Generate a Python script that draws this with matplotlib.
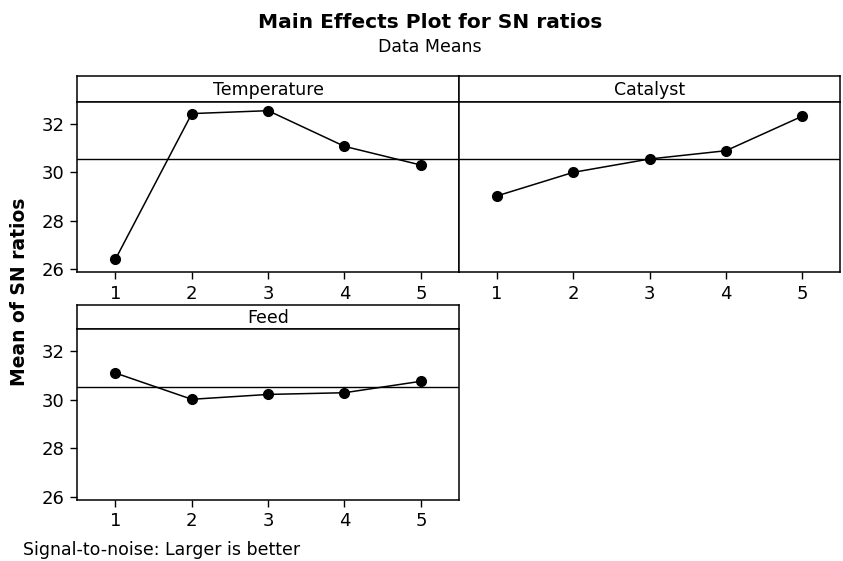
import matplotlib
matplotlib.use("Agg")
import matplotlib.pyplot as plt

levels = [1, 2, 3, 4, 5]
temperature = [26.41, 32.41, 32.53, 31.06, 30.29]
catalyst = [29.02, 29.99, 30.54, 30.88, 32.30]
feed = [31.09, 30.01, 30.21, 30.28, 30.75]
grand_mean = 30.52
yticks = [26, 28, 30, 32]

W, H = 843, 561
fig = plt.figure(figsize=(W / 100, H / 100), dpi=100)
plt.rcParams['font.family'] = ['DejaVu Sans']


def add_px(x0, y0, x1, y1):
    return fig.add_axes([x0 / W, 1 - y1 / H, (x1 - x0) / W, (y1 - y0) / H])


def panel(x0, x1, yh, yp, yb, name, vals, show_y):
    hax = add_px(x0, yh, x1, yp)
    hax.set_xticks([])
    hax.set_yticks([])
    for s in hax.spines.values():
        s.set_linewidth(1.1)
    hax.text(0.5, 0.47, name, ha='center', va='center', fontsize=12.5,
             transform=hax.transAxes)
    ax = add_px(x0, yp, x1, yb)
    for s in ax.spines.values():
        s.set_linewidth(1.1)
    ax.axhline(grand_mean, color='black', lw=1.0)
    ax.plot(levels, vals, color='black', lw=1.1, marker='o', markersize=7)
    ax.set_xlim(0.5, 5.5)
    ax.set_ylim(25.87, 32.9)
    ax.set_xticks(levels)
    ax.set_yticks(yticks)
    ax.tick_params(direction='out', length=5, width=1, labelsize=13, pad=4)
    if not show_y:
        ax.tick_params(axis='y', left=False, labelleft=False)
    return ax


panel(77.3, 459, 76, 101.7, 272.3, 'Temperature', temperature, True)
panel(459, 840.3, 76, 101.7, 272.3, 'Catalyst', catalyst, False)
panel(77.3, 459, 305, 329, 500, 'Feed', feed, True)

fig.text(430 / W, 1 - 22 / H, 'Main Effects Plot for SN ratios', ha='center',
         va='center', fontsize=14.5, fontweight='bold')
fig.text(430 / W, 1 - 47 / H, 'Data Means', ha='center', va='center', fontsize=12.5)
fig.text(20 / W, 1 - 292 / H, 'Mean of SN ratios', ha='center', va='center',
         rotation=90, fontsize=13.5, fontweight='bold')
fig.text(23 / W, 1 - 550 / H, 'Signal-to-noise: Larger is better', ha='left',
         va='center', fontsize=12.5)

fig.savefig('out.png', dpi=100)
